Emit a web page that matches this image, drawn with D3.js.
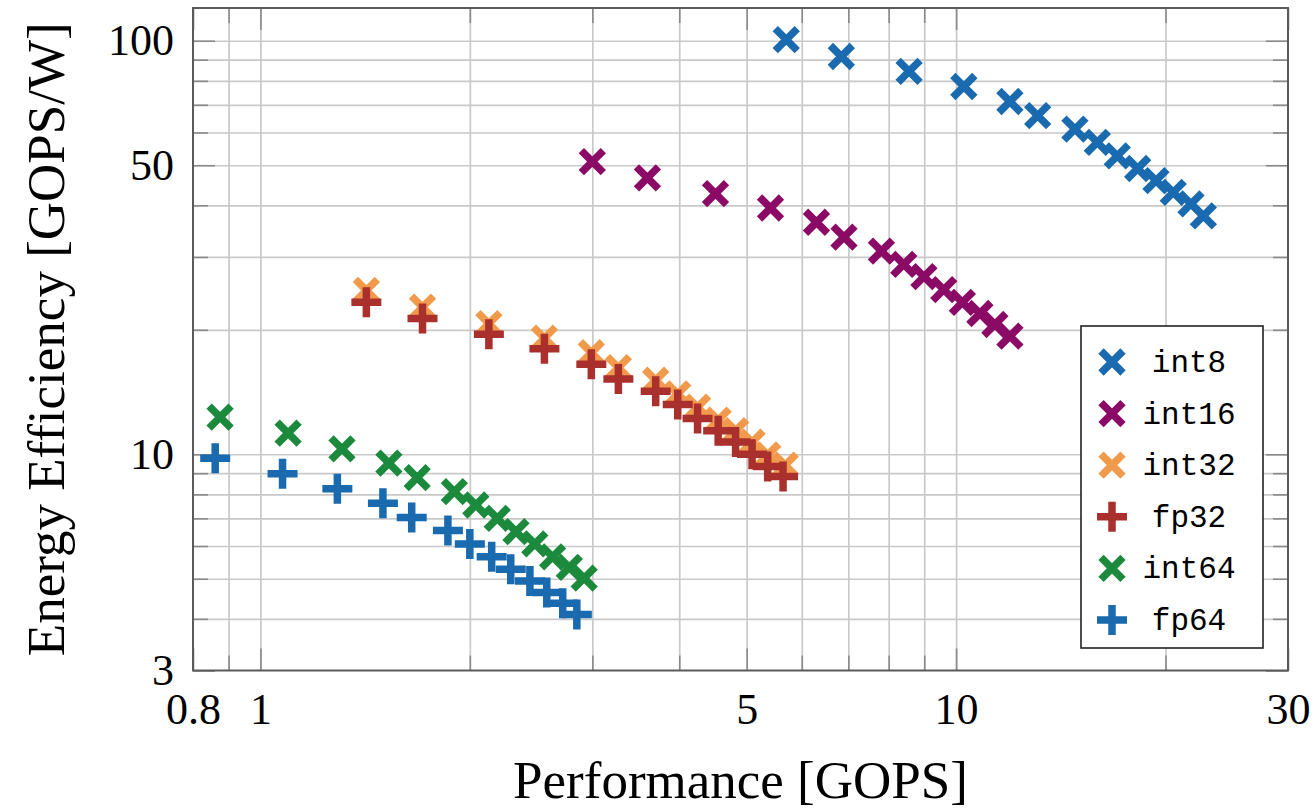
<!doctype html>
<html>
<head>
<meta charset="utf-8">
<script src="https://d3js.org/d3.v7.min.js"></script>
<style>
body { margin: 0; background: #fff; }
.grid line { stroke: #c9c9c9; stroke-width: 1.7px; }
.ticks line { stroke: #8a8a8a; stroke-width: 1.6px; }
.lbl text { font-family: "Liberation Serif", "Times New Roman", serif; font-size: 44px; fill: #000; }
</style>
</head>
<body>
<svg id="chart" width="1315" height="808"></svg>
<script>
// data: [GOPS, GOPS/W]
var int8 = [[5.70,100.6],[6.84,91.6],[8.56,84.3],[10.26,77.5],[11.95,71.3],[13.10,65.9],[14.82,61.1],
            [15.96,56.8],[17.05,52.7],[18.24,49.1],[19.38,45.9],[20.52,43.0],[21.76,40.3],[22.67,37.7]];
var int16 = [[3.00,51.0],[3.60,46.6],[4.51,42.7],[5.41,39.4],[6.30,36.4],[6.90,33.5],[7.81,31.0],
             [8.41,28.8],[8.99,26.9],[9.60,25.0],[10.21,23.3],[10.82,21.9],[11.37,20.6],[11.95,19.3]];
var int32 = [[1.42,24.9],[1.71,22.7],[2.13,20.7],[2.56,19.1],[2.99,17.6],[3.27,16.2],[3.70,15.1],
             [3.98,14.0],[4.25,13.0],[4.55,12.1],[4.82,11.4],[5.09,10.7],[5.36,9.96],[5.68,9.41]];
var fp32 = [[1.42,23.3],[1.71,21.3],[2.13,19.5],[2.56,18.0],[2.99,16.5],[3.27,15.2],[3.70,14.2],
            [3.98,13.2],[4.25,12.2],[4.55,11.4],[4.82,10.7],[5.09,10.0],[5.36,9.34],[5.64,8.83]];
var int64 = [[0.875,12.3],[1.096,11.25],[1.31,10.3],[1.53,9.52],[1.68,8.78],[1.90,8.12],[2.04,7.54],
             [2.19,7.00],[2.33,6.50],[2.48,6.07],[2.63,5.65],[2.78,5.33],[2.92,5.02]];
var fp64 = [[0.861,9.78],[1.076,8.97],[1.29,8.25],[1.50,7.61],[1.65,7.03],[1.86,6.54],[2.00,6.07],
            [2.15,5.65],[2.29,5.27],[2.44,4.94],[2.58,4.63],[2.72,4.36],[2.85,4.10]];

var seriesNames = ["int8", "int16", "int32", "fp32", "int64", "fp64"];
var seriesData = [int8, int16, int32, fp32, int64, fp64];
var seriesMark = ["x", "x", "x", "+", "x", "+"];
var seriesColor = ["#1a6aaf", "#8b0a66", "#f29a4c", "#a9302d", "#1c8a3c", "#1a6aaf"];

var xLabels = [0.8, 1, 5, 10, 30];
var yLabels = [3, 10, 50, 100];
var xGrid = [0.9, 1, 2, 3, 4, 5, 6, 7, 8, 9, 10, 20];
var yGrid = [4, 5, 6, 7, 8, 9, 10, 20, 30, 40, 50, 60, 70, 80, 90, 100];

var pL = 193, pR = 1288, pT = 8, pB = 670.5;
var svg = d3.select("#chart");

var x = d3.scaleLog().domain([0.8, 30]).range([pL, pR]);
var y = d3.scaleLog().domain([3, 120]).range([pB, pT]);
var H = pB - pT, W = pR - pL;

function markPath(type, r) {
  if (type == "x") return "M" + (-r) + "," + (-r) + "L" + r + "," + r + "M" + (-r) + "," + r + "L" + r + "," + (-r);
  return "M" + (-r) + ",0L" + r + ",0M0," + (-r) + "L0," + r;
}
function clean(g) { g.select(".domain").remove(); }

// grid
svg.append("g").attr("class", "grid").attr("transform", "translate(0," + pB + ")")
  .call(d3.axisBottom(x).tickValues(xGrid).tickSize(-H).tickFormat("")).call(clean);
svg.append("g").attr("class", "grid").attr("transform", "translate(" + pL + ",0)")
  .call(d3.axisLeft(y).tickValues(yGrid).tickSize(-W).tickFormat("")).call(clean);

// inside tick marks on all four sides
var xMinor = xGrid.filter(function(v) { return xLabels.indexOf(v) < 0; });
var yMinor = yGrid.filter(function(v) { return yLabels.indexOf(v) < 0; });
[[xMinor, 15], [xLabels, 22]].forEach(function(t) {
  svg.append("g").attr("class", "ticks").attr("transform", "translate(0," + pB + ")")
    .call(d3.axisBottom(x).tickValues(t[0]).tickSize(-t[1]).tickFormat("")).call(clean);
  svg.append("g").attr("class", "ticks").attr("transform", "translate(0," + pT + ")")
    .call(d3.axisTop(x).tickValues(t[0]).tickSize(-t[1]).tickFormat("")).call(clean);
});
[[yMinor, 15], [yLabels, 22]].forEach(function(t) {
  svg.append("g").attr("class", "ticks").attr("transform", "translate(" + pL + ",0)")
    .call(d3.axisLeft(y).tickValues(t[0]).tickSize(-t[1]).tickFormat("")).call(clean);
  svg.append("g").attr("class", "ticks").attr("transform", "translate(" + pR + ",0)")
    .call(d3.axisRight(y).tickValues(t[0]).tickSize(-t[1]).tickFormat("")).call(clean);
});

// tick labels
svg.append("g").attr("class", "lbl").attr("transform", "translate(0," + pB + ")")
  .call(d3.axisBottom(x).tickValues(xLabels).tickSize(0).tickPadding(22).tickFormat(d3.format("")))
  .call(clean);
svg.append("g").attr("class", "lbl").attr("transform", "translate(" + pL + ",0)")
  .call(d3.axisLeft(y).tickValues(yLabels).tickSize(0).tickPadding(19).tickFormat(d3.format("")))
  .call(clean);
svg.selectAll(".lbl").attr("font-family", null).attr("font-size", null);

// frame
svg.append("rect").attr("x", pL).attr("y", pT).attr("width", W).attr("height", H)
  .style("fill", "none").style("stroke", "#5a5a5a").style("stroke-width", 2);

// axis titles
svg.append("text").attr("x", (pL + pR) / 2).attr("y", 798).attr("text-anchor", "middle")
  .style("font-family", "Liberation Serif").style("font-size", "53px").text("Performance [GOPS]");
svg.append("text").attr("transform", "translate(64," + (pT + pB) / 2 + ") rotate(-90)")
  .attr("text-anchor", "middle")
  .style("font-family", "Liberation Serif").style("font-size", "53px").text("Energy Efficiency [GOPS/W]");

// marks
seriesData.forEach(function(data, i) {
  var r = seriesMark[i] == "x" ? 11 : 15;
  svg.append("g").selectAll("path").data(data).enter().append("path")
    .attr("transform", function(d) { return "translate(" + x(d[0]) + "," + y(d[1]) + ")"; })
    .attr("d", markPath(seriesMark[i], r))
    .style("fill", "none").style("stroke", seriesColor[i]).style("stroke-width", 7.5);
});

// legend
var lg = svg.append("g").attr("transform", "translate(1081,326)");
lg.append("rect").attr("width", 182).attr("height", 322)
  .style("fill", "#fff").style("stroke", "#222").style("stroke-width", 1.6);
seriesNames.forEach(function(name, i) {
  var cy = 36 + i * 51.6;
  var r = seriesMark[i] == "x" ? 11 : 15;
  lg.append("path").attr("transform", "translate(31," + cy + ")")
    .attr("d", markPath(seriesMark[i], r))
    .style("fill", "none").style("stroke", seriesColor[i]).style("stroke-width", 7.5);
  lg.append("text").attr("x", 108).attr("y", cy + 10).attr("text-anchor", "middle")
    .style("font-family", "Liberation Mono, monospace").style("font-size", "31px").text(name);
});
</script>
</body>
</html>
